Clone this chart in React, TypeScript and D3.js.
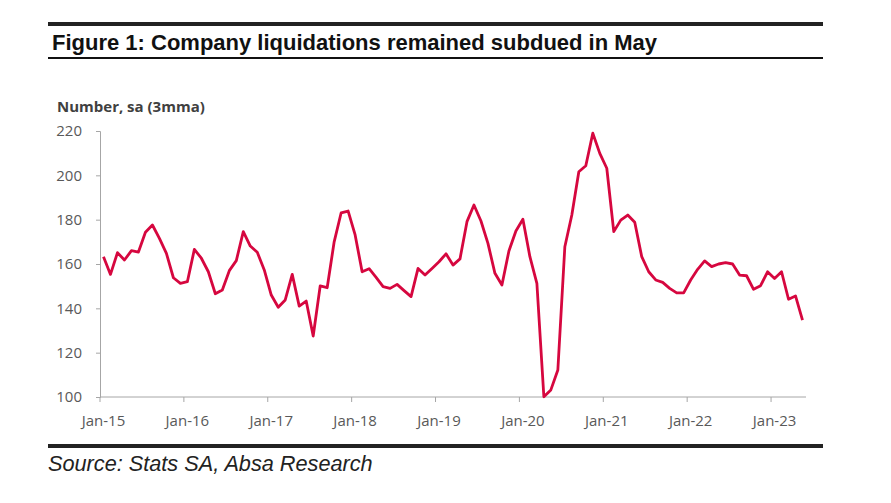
import React, { useEffect, useRef } from "react";
import * as d3 from "d3";

// monthly, Jan-15 .. May-23
const values: number[] = [
  163.3, 155.3, 165.1, 161.8, 166, 165.4, 174.3, 177.6, 171.6, 164.8, 153.8, 151.3,
  152, 166.6, 162.6, 156.5, 146.6, 148.3, 157, 161.5, 174.6, 168.1, 165.3, 157.3,
  146, 140.5, 143.8, 155.3, 141, 143.3, 127.5, 150.1, 149.3, 170, 183.1, 183.9,
  173.1, 156.5, 157.9, 154, 149.8, 149, 150.8, 148, 145.3, 158, 155, 158,
  161, 164.6, 159.5, 162.3, 179.1, 186.6, 179.4, 169.3, 155.8, 150.5, 165.9, 174.9,
  180.2, 163.3, 151.3, 100.1, 103.2, 112.2, 167.8, 182.1, 201.6, 204.3, 219, 209.9,
  203.2, 174.6, 179.8, 182.1, 178.8, 163.3, 156.5, 152.8, 151.7, 149, 147, 147,
  152.8, 157.6, 161.4, 158.8, 160, 160.6, 160, 155, 154.7, 148.6, 150.2, 156.5,
  153.5, 156.5, 144.1, 145.6, 134.7
];
const years = ["15", "16", "17", "18", "19", "20", "21", "22", "23"];
const monthNames = ["Jan", "Feb", "Mar", "Apr", "May", "Jun", "Jul", "Aug", "Sep", "Oct", "Nov", "Dec"];
const yTicks = [100, 120, 140, 160, 180, 200, 220];

const title = "Figure 1: Company liquidations remained subdued in May";
const unitLabel = "Number, sa (3mma)";
const source = "Source: Stats SA, Absa Research";

const months = values.map((_, i) => `${monthNames[i % 12]}-${years[Math.floor(i / 12)]}`);

const App: React.FC = () => {
  const ref = useRef<SVGSVGElement | null>(null);

  useEffect(() => {
    if (!ref.current) return;
    const svg = d3.select(ref.current);
    svg.selectAll("*").remove();

    const left = 100;
    const right = 806;
    const top = 131;
    const bottom = 397;
    const axisFont = "'Open Sans', sans-serif";

    const x = d3.scaleBand<string>().domain(months).range([left, right]);
    const y = d3.scaleLinear().domain([100, 220]).range([bottom, top]);

    // frame rules and title
    svg.append("rect").attr("x", 48).attr("y", 22).attr("width", 775).attr("height", 4).attr("fill", "#222");
    svg.append("rect").attr("x", 48).attr("y", 57).attr("width", 775).attr("height", 2).attr("fill", "#111");
    svg.append("text")
      .attr("x", 52).attr("y", 50)
      .attr("font-family", "'Liberation Sans', Arial, sans-serif")
      .attr("font-weight", "bold").attr("font-size", 22).attr("fill", "#111")
      .text(title);
    svg.append("rect").attr("x", 48).attr("y", 444).attr("width", 775).attr("height", 4).attr("fill", "#222");
    svg.append("text")
      .attr("x", 48).attr("y", 471)
      .attr("font-family", "'Liberation Sans', Arial, sans-serif")
      .attr("font-style", "italic").attr("font-size", 21.7).attr("fill", "#222")
      .text(source);

    svg.append("text")
      .attr("x", 57).attr("y", 112)
      .attr("font-family", axisFont).attr("font-weight", "bold").attr("font-size", 15)
      .attr("fill", "#404040")
      .text(unitLabel);

    // y axis
    const yAxis = svg.append("g").attr("transform", `translate(${left},0)`)
      .call(d3.axisLeft(y).tickValues(yTicks).tickSize(4).tickPadding(14));
    yAxis.select(".domain").attr("stroke", "#a6a6a6");
    yAxis.selectAll(".tick line").attr("stroke", "#a6a6a6");
    yAxis.selectAll(".tick text")
      .attr("font-family", axisFont).attr("font-size", 15).attr("fill", "#595959");

    // x axis: ticks at year boundaries, labels on January
    const janIdx = months.map((m, i) => i).filter((i) => i % 12 === 0);
    const xAxis = svg.append("g").attr("transform", `translate(0,${bottom})`);
    xAxis.append("line")
      .attr("x1", left).attr("x2", right).attr("y1", 0).attr("y2", 0)
      .attr("stroke", "#a6a6a6");
    xAxis.selectAll("line.tick").data(janIdx).enter().append("line")
      .attr("class", "tick")
      .attr("x1", (i) => x(months[i])!).attr("x2", (i) => x(months[i])!)
      .attr("y1", 0).attr("y2", 5)
      .attr("stroke", "#a6a6a6");
    xAxis.selectAll("text").data(janIdx).enter().append("text")
      .attr("x", (i) => x(months[i])! + x.bandwidth() / 2)
      .attr("y", 29)
      .attr("text-anchor", "middle")
      .attr("font-family", axisFont).attr("font-size", 15).attr("fill", "#595959")
      .text((i) => months[i]);

    const line = d3.line<number>()
      .x((_, i) => x(months[i])! + x.bandwidth() / 2)
      .y((d) => y(d));

    svg.append("path")
      .datum(values)
      .attr("d", line)
      .attr("fill", "none")
      .attr("stroke", "#d6073f")
      .attr("stroke-width", 2.8)
      .attr("stroke-linejoin", "round");
  }, []);

  return (
    <svg
      ref={ref}
      width={891}
      height={503}
      style={{ position: "absolute", left: 0, top: 0, background: "#fff" }}
    />
  );
};

export default App;
